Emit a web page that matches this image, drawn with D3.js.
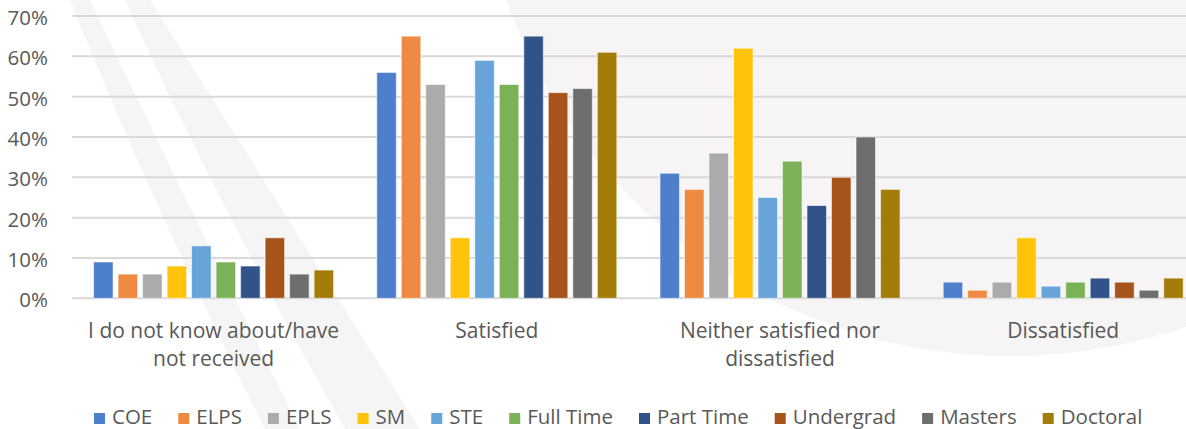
<!DOCTYPE html>
<html>
<head>
<meta charset="utf-8">
<script src="https://cdn.jsdelivr.net/npm/d3@7"></script>
<style>
  html, body { margin: 0; padding: 0; background: #ffffff; }
  svg { display: block; font-family: "Open Sans", "Liberation Sans", sans-serif; }
</style>
</head>
<body>
<svg id="chart" width="1186" height="429"></svg>
<script>
// Response categories (x axis)
const categories = [
  "I do not know about/have not received",
  "Satisfied",
  "Neither satisfied nor dissatisfied",
  "Dissatisfied"
];

// Respondent groups (one bar per group in each category)
const seriesNames = ["COE", "ELPS", "EPLS", "SM", "STE", "Full Time", "Part Time", "Undergrad", "Masters", "Doctoral"];

// Share of respondents (%) per category, in category order
const coe       = [9, 56, 31, 4];
const elps      = [6, 65, 27, 2];
const epls      = [6, 53, 36, 4];
const sm        = [8, 15, 62, 15];
const ste       = [13, 59, 25, 3];
const fullTime  = [9, 53, 34, 4];
const partTime  = [8, 65, 23, 5];
const undergrad = [15, 51, 30, 4];
const masters   = [6, 52, 40, 2];
const doctoral  = [7, 61, 27, 5];

const seriesValues = [coe, elps, epls, sm, ste, fullTime, partTime, undergrad, masters, doctoral];

// Y axis ticks (fractions)
const yTicks = [0, 0.1, 0.2, 0.3, 0.4, 0.5, 0.6, 0.7];

const colors = ["#4e7fcc", "#ef8a43", "#ababab", "#ffc30c", "#67a4d9",
                "#7bb257", "#32538a", "#a7541a", "#6e6e6e", "#a37c0a"];

const svg = d3.select("#chart");
const W = 1186, H = 429;
const textColor = "#595959";

// ---- faint watermark seal in the background ----
const wm = svg.append("g").attr("class", "watermark");
wm.append("circle")
  .attr("cx", 1011).attr("cy", -180).attr("r", 536)
  .attr("fill", "#f6f4f4");
function band(pts, fill) {
  const p = d3.path();
  p.moveTo(pts[0][0], pts[0][1]);
  p.quadraticCurveTo(pts[1][0], pts[1][1], pts[2][0], pts[2][1]);
  p.lineTo(pts[3][0], pts[3][1]);
  p.quadraticCurveTo(pts[4][0], pts[4][1], pts[5][0], pts[5][1]);
  p.closePath();
  wm.append("path").attr("d", p.toString()).attr("fill", fill);
}
band([[70, 0], [150, 200], [265, 429], [300, 429], [185, 200], [90, 0]], "#f5f5f5");
band([[125, 0], [210, 190], [345, 429], [420, 429], [270, 190], [150, 0]], "#f5f5f5");

// ---- scales ----
const plotLeft = 72;
const groupStep = 283.2;
const x0 = d3.scaleBand()
  .domain(categories)
  .range([plotLeft, plotLeft + groupStep * categories.length])
  .paddingInner(0).paddingOuter(0);

const x1 = d3.scaleBand()
  .domain(seriesNames)
  .range([21.6, groupStep - 21.6])
  .paddingInner(0.205).paddingOuter(0);

const y = d3.scaleLinear().domain([0, 0.7]).range([298.3, 16]);

// ---- gridlines ----
svg.append("g")
  .selectAll("line")
  .data(yTicks)
  .join("line")
  .attr("x1", plotLeft).attr("x2", W)
  .attr("y1", d => y(d)).attr("y2", d => y(d))
  .attr("stroke", "#d9d9d9")
  .attr("stroke-width", 2);

// ---- y axis labels ----
const yAxis = d3.axisLeft(y).tickValues(yTicks).tickFormat(d3.format(".0%")).tickSize(0).tickPadding(0);
const yg = svg.append("g").attr("transform", "translate(48,0)").call(yAxis);
yg.select(".domain").remove();
yg.selectAll("text")
  .attr("fill", textColor)
  .attr("font-size", "20.5px")
  .attr("font-family", "'Open Sans', 'Liberation Sans', sans-serif")
  .attr("dy", "0.42em");

// ---- bars ----
const groups = svg.append("g")
  .selectAll("g")
  .data(categories)
  .join("g")
  .attr("transform", d => `translate(${x0(d)},0)`);

groups.selectAll("rect")
  .data((c, ci) => seriesNames.map((s, si) => ({ s, si, v: seriesValues[si][ci] / 100 })))
  .join("rect")
  .attr("x", d => x1(d.s))
  .attr("width", x1.bandwidth())
  .attr("y", d => y(d.v))
  .attr("height", d => y(0) - y(d.v))
  .attr("fill", d => colors[d.si])
  .attr("stroke", "rgba(255,255,255,0.55)")
  .attr("stroke-width", 1);

// ---- x axis labels (wrapped) ----
const xg = svg.append("g");
const maxLabelWidth = 268;
categories.forEach(cat => {
  const cx = x0(cat) + x0.bandwidth() / 2;
  const t = xg.append("text")
    .attr("x", cx).attr("y", 337.7)
    .attr("text-anchor", "middle")
    .attr("fill", textColor)
    .attr("font-size", "21px");
  const words = cat.split(" ");
  let line = [];
  let tspan = t.append("tspan").attr("x", cx).attr("dy", 0);
  words.forEach(w => {
    line.push(w);
    tspan.text(line.join(" "));
    if (tspan.node().getComputedTextLength() > maxLabelWidth && line.length > 1) {
      line.pop();
      tspan.text(line.join(" "));
      line = [w];
      tspan = t.append("tspan").attr("x", cx).attr("dy", 28).text(w);
    }
  });
});

// ---- legend ----
const legend = svg.append("g");
let lx = 94;
const legendBaseline = 424.3;
seriesNames.forEach((name, i) => {
  legend.append("rect")
    .attr("x", lx).attr("y", 413)
    .attr("width", 11).attr("height", 11)
    .attr("fill", colors[i]);
  const t = legend.append("text")
    .attr("x", lx + 18).attr("y", legendBaseline)
    .attr("fill", textColor)
    .attr("font-size", "20.5px")
    .text(name);
  lx += 18 + t.node().getComputedTextLength() + 26;
});
</script>
</body>
</html>
